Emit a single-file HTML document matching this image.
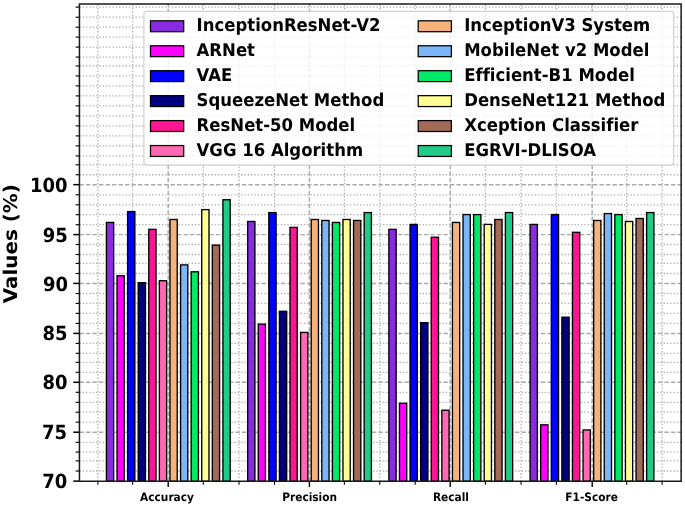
<!DOCTYPE html>
<html lang="en"><head><meta charset="utf-8"><title>Model comparison chart</title>
<style>html,body{margin:0;padding:0;background:#fff}svg{display:block}</style></head>
<body>
<svg width="685" height="505" viewBox="0 0 685 505" font-family="'DejaVu Sans', 'Liberation Sans', sans-serif" font-weight="bold" style="font-variant-ligatures:none" text-rendering="geometricPrecision">
<rect width="685" height="505" fill="#fff"/>
<g stroke="#aeaeae" stroke-width="1.3" stroke-dasharray="1.35 1.95" fill="none">
<path d="M79.45 7.1H681.15"/>
<path d="M79.45 17.2H681.15"/>
<path d="M79.45 27.2H681.15"/>
<path d="M79.45 37.15H681.15"/>
<path d="M79.45 47.1H681.15"/>
<path d="M79.45 57.1H681.15"/>
<path d="M79.45 66.0H681.15"/>
<path d="M79.45 75.9H681.15"/>
<path d="M79.45 85.9H681.15"/>
<path d="M79.45 95.9H681.15"/>
<path d="M79.45 105.9H681.15"/>
<path d="M79.45 115.9H681.15"/>
<path d="M79.45 125.9H681.15"/>
<path d="M79.45 135.9H681.15"/>
<path d="M79.45 145.9H681.15"/>
<path d="M79.45 155.9H681.15"/>
<path d="M79.45 164.8H681.15"/>
<path d="M79.45 174.75H681.15"/>
<path d="M79.45 194.8H681.15"/>
<path d="M79.45 204.8H681.15"/>
<path d="M79.45 214.7H681.15"/>
<path d="M79.45 224.7H681.15"/>
<path d="M79.45 244.5H681.15"/>
<path d="M79.45 254.5H681.15"/>
<path d="M79.45 263.4H681.15"/>
<path d="M79.45 273.5H681.15"/>
<path d="M79.45 293.5H681.15"/>
<path d="M79.45 303.4H681.15"/>
<path d="M79.45 313.4H681.15"/>
<path d="M79.45 323.4H681.15"/>
<path d="M79.45 343.4H681.15"/>
<path d="M79.45 353.3H681.15"/>
<path d="M79.45 362.3H681.15"/>
<path d="M79.45 372.3H681.15"/>
<path d="M79.45 392.3H681.15"/>
<path d="M79.45 402.3H681.15"/>
<path d="M79.45 412.2H681.15"/>
<path d="M79.45 422.2H681.15"/>
<path d="M79.45 442.3H681.15"/>
<path d="M79.45 452.1H681.15"/>
<path d="M79.45 460.9H681.15"/>
<path d="M79.45 471.0H681.15"/>
<path d="M97.90 481.25V4.0"/>
<path d="M132.60 481.25V4.0"/>
<path d="M203.30 481.25V4.0"/>
<path d="M239.00 481.25V4.0"/>
<path d="M274.50 481.25V4.0"/>
<path d="M344.40 481.25V4.0"/>
<path d="M379.80 481.25V4.0"/>
<path d="M415.20 481.25V4.0"/>
<path d="M485.40 481.25V4.0"/>
<path d="M521.10 481.25V4.0"/>
<path d="M556.40 481.25V4.0"/>
<path d="M626.70 481.25V4.0"/>
<path d="M662.10 481.25V4.0"/>
</g>
<g stroke="#aaaaaa" stroke-width="1.45" stroke-dasharray="4.4 2.1" fill="none">
<path d="M79.45 432.2H681.15"/>
<path d="M79.45 382.3H681.15"/>
<path d="M79.45 333.4H681.15"/>
<path d="M79.45 283.4H681.15"/>
<path d="M79.45 234.6H681.15"/>
<path d="M79.45 184.65H681.15"/>
<path d="M168.20 481.25V4.0"/>
<path d="M309.40 481.25V4.0"/>
<path d="M450.20 481.25V4.0"/>
<path d="M592.20 481.25V4.0"/>
</g>
<g stroke="#000" stroke-width="1.35">
<rect x="106.41" y="222.45" width="7.26" height="258.80" fill="#8A2BE2"/>
<rect x="117.00" y="275.76" width="7.26" height="205.49" fill="#FF00FF"/>
<rect x="127.60" y="211.59" width="7.26" height="269.66" fill="#0000FF"/>
<rect x="138.19" y="282.67" width="7.26" height="198.58" fill="#000080"/>
<rect x="148.78" y="229.36" width="7.26" height="251.89" fill="#FF1493"/>
<rect x="159.37" y="280.70" width="7.26" height="200.55" fill="#FF69B4"/>
<rect x="169.97" y="219.49" width="7.26" height="261.76" fill="#F5B27A"/>
<rect x="180.56" y="264.90" width="7.26" height="216.35" fill="#7DB6F6"/>
<rect x="191.15" y="271.81" width="7.26" height="209.44" fill="#00E966"/>
<rect x="201.74" y="209.62" width="7.26" height="271.63" fill="#FFFF92"/>
<rect x="212.33" y="245.16" width="7.26" height="236.09" fill="#A46A58"/>
<rect x="222.93" y="199.75" width="7.26" height="281.50" fill="#22CA88"/>
<rect x="247.64" y="221.47" width="7.26" height="259.78" fill="#8A2BE2"/>
<rect x="258.23" y="324.14" width="7.26" height="157.11" fill="#FF00FF"/>
<rect x="268.83" y="212.58" width="7.26" height="268.67" fill="#0000FF"/>
<rect x="279.42" y="311.30" width="7.26" height="169.95" fill="#000080"/>
<rect x="290.01" y="227.39" width="7.26" height="253.86" fill="#FF1493"/>
<rect x="300.60" y="332.43" width="7.26" height="148.82" fill="#FF69B4"/>
<rect x="311.20" y="219.49" width="7.26" height="261.76" fill="#F5B27A"/>
<rect x="321.79" y="220.48" width="7.26" height="260.77" fill="#7DB6F6"/>
<rect x="332.38" y="222.45" width="7.26" height="258.80" fill="#00E966"/>
<rect x="342.97" y="219.49" width="7.26" height="261.76" fill="#FFFF92"/>
<rect x="353.56" y="220.48" width="7.26" height="260.77" fill="#A46A58"/>
<rect x="364.16" y="212.58" width="7.26" height="268.67" fill="#22CA88"/>
<rect x="388.87" y="229.36" width="7.26" height="251.89" fill="#8A2BE2"/>
<rect x="399.46" y="403.31" width="7.26" height="77.94" fill="#FF00FF"/>
<rect x="410.06" y="224.43" width="7.26" height="256.82" fill="#0000FF"/>
<rect x="420.65" y="322.65" width="7.26" height="158.60" fill="#000080"/>
<rect x="431.24" y="237.26" width="7.26" height="243.99" fill="#FF1493"/>
<rect x="441.83" y="410.22" width="7.26" height="71.03" fill="#FF69B4"/>
<rect x="452.43" y="222.45" width="7.26" height="258.80" fill="#F5B27A"/>
<rect x="463.02" y="214.56" width="7.26" height="266.69" fill="#7DB6F6"/>
<rect x="473.61" y="214.56" width="7.26" height="266.69" fill="#00E966"/>
<rect x="484.20" y="224.43" width="7.26" height="256.82" fill="#FFFF92"/>
<rect x="494.79" y="219.49" width="7.26" height="261.76" fill="#A46A58"/>
<rect x="505.39" y="212.58" width="7.26" height="268.67" fill="#22CA88"/>
<rect x="530.10" y="224.43" width="7.26" height="256.82" fill="#8A2BE2"/>
<rect x="540.69" y="424.83" width="7.26" height="56.42" fill="#FF00FF"/>
<rect x="551.29" y="214.56" width="7.26" height="266.69" fill="#0000FF"/>
<rect x="561.88" y="317.22" width="7.26" height="164.03" fill="#000080"/>
<rect x="572.47" y="232.33" width="7.26" height="248.92" fill="#FF1493"/>
<rect x="583.06" y="429.96" width="7.26" height="51.29" fill="#FF69B4"/>
<rect x="593.66" y="220.48" width="7.26" height="260.77" fill="#F5B27A"/>
<rect x="604.25" y="213.57" width="7.26" height="267.68" fill="#7DB6F6"/>
<rect x="614.84" y="214.56" width="7.26" height="266.69" fill="#00E966"/>
<rect x="625.43" y="221.47" width="7.26" height="259.78" fill="#FFFF92"/>
<rect x="636.02" y="218.50" width="7.26" height="262.75" fill="#A46A58"/>
<rect x="646.62" y="212.58" width="7.26" height="268.67" fill="#22CA88"/>
</g>
<g stroke="#000" fill="none">
<path d="M79.45 7.1h-3.8" stroke-width="1.15"/>
<path d="M79.45 17.2h-3.8" stroke-width="1.15"/>
<path d="M79.45 27.2h-3.8" stroke-width="1.15"/>
<path d="M79.45 37.15h-3.8" stroke-width="1.15"/>
<path d="M79.45 47.1h-3.8" stroke-width="1.15"/>
<path d="M79.45 57.1h-3.8" stroke-width="1.15"/>
<path d="M79.45 66.0h-3.8" stroke-width="1.15"/>
<path d="M79.45 75.9h-3.8" stroke-width="1.15"/>
<path d="M79.45 85.9h-3.8" stroke-width="1.15"/>
<path d="M79.45 95.9h-3.8" stroke-width="1.15"/>
<path d="M79.45 105.9h-3.8" stroke-width="1.15"/>
<path d="M79.45 115.9h-3.8" stroke-width="1.15"/>
<path d="M79.45 125.9h-3.8" stroke-width="1.15"/>
<path d="M79.45 135.9h-3.8" stroke-width="1.15"/>
<path d="M79.45 145.9h-3.8" stroke-width="1.15"/>
<path d="M79.45 155.9h-3.8" stroke-width="1.15"/>
<path d="M79.45 164.8h-3.8" stroke-width="1.15"/>
<path d="M79.45 174.75h-3.8" stroke-width="1.15"/>
<path d="M79.45 184.65h-6.2" stroke-width="1.5"/>
<path d="M79.45 194.8h-3.8" stroke-width="1.15"/>
<path d="M79.45 204.8h-3.8" stroke-width="1.15"/>
<path d="M79.45 214.7h-3.8" stroke-width="1.15"/>
<path d="M79.45 224.7h-3.8" stroke-width="1.15"/>
<path d="M79.45 234.6h-6.2" stroke-width="1.5"/>
<path d="M79.45 244.5h-3.8" stroke-width="1.15"/>
<path d="M79.45 254.5h-3.8" stroke-width="1.15"/>
<path d="M79.45 263.4h-3.8" stroke-width="1.15"/>
<path d="M79.45 273.5h-3.8" stroke-width="1.15"/>
<path d="M79.45 283.4h-6.2" stroke-width="1.5"/>
<path d="M79.45 293.5h-3.8" stroke-width="1.15"/>
<path d="M79.45 303.4h-3.8" stroke-width="1.15"/>
<path d="M79.45 313.4h-3.8" stroke-width="1.15"/>
<path d="M79.45 323.4h-3.8" stroke-width="1.15"/>
<path d="M79.45 333.4h-6.2" stroke-width="1.5"/>
<path d="M79.45 343.4h-3.8" stroke-width="1.15"/>
<path d="M79.45 353.3h-3.8" stroke-width="1.15"/>
<path d="M79.45 362.3h-3.8" stroke-width="1.15"/>
<path d="M79.45 372.3h-3.8" stroke-width="1.15"/>
<path d="M79.45 382.3h-6.2" stroke-width="1.5"/>
<path d="M79.45 392.3h-3.8" stroke-width="1.15"/>
<path d="M79.45 402.3h-3.8" stroke-width="1.15"/>
<path d="M79.45 412.2h-3.8" stroke-width="1.15"/>
<path d="M79.45 422.2h-3.8" stroke-width="1.15"/>
<path d="M79.45 432.2h-6.2" stroke-width="1.5"/>
<path d="M79.45 442.3h-3.8" stroke-width="1.15"/>
<path d="M79.45 452.1h-3.8" stroke-width="1.15"/>
<path d="M79.45 460.9h-3.8" stroke-width="1.15"/>
<path d="M79.45 471.0h-3.8" stroke-width="1.15"/>
<path d="M79.45 481.1h-6.2" stroke-width="1.5"/>
<path d="M97.90 481.25v3.6" stroke-width="1.1"/>
<path d="M132.60 481.25v3.6" stroke-width="1.1"/>
<path d="M203.30 481.25v3.6" stroke-width="1.1"/>
<path d="M239.00 481.25v3.6" stroke-width="1.1"/>
<path d="M274.50 481.25v3.6" stroke-width="1.1"/>
<path d="M344.40 481.25v3.6" stroke-width="1.1"/>
<path d="M379.80 481.25v3.6" stroke-width="1.1"/>
<path d="M415.20 481.25v3.6" stroke-width="1.1"/>
<path d="M485.40 481.25v3.6" stroke-width="1.1"/>
<path d="M521.10 481.25v3.6" stroke-width="1.1"/>
<path d="M556.40 481.25v3.6" stroke-width="1.1"/>
<path d="M626.70 481.25v3.6" stroke-width="1.1"/>
<path d="M662.10 481.25v3.6" stroke-width="1.1"/>
<path d="M168.20 481.25v5.7" stroke-width="1.4"/>
<path d="M309.40 481.25v5.7" stroke-width="1.4"/>
<path d="M450.20 481.25v5.7" stroke-width="1.4"/>
<path d="M592.20 481.25v5.7" stroke-width="1.4"/>
<rect x="79.45" y="4.0" width="601.6999999999999" height="477.25" stroke="#1a1a1a" stroke-width="1.5"/>
</g>
<g font-size="18" text-anchor="end">
<text transform="translate(67.30 488.35) scale(1 1.08)">70</text>
<text transform="translate(67.10 439.45) scale(1 1.08)">75</text>
<text transform="translate(67.60 389.25) scale(1 1.08)">80</text>
<text transform="translate(67.50 340.25) scale(1 1.08)">85</text>
<text transform="translate(68.10 290.65) scale(1 1.08)">90</text>
<text transform="translate(67.90 241.85) scale(1 1.08)">95</text>
<text transform="translate(67.50 191.50) scale(1 1.08)">100</text>
</g>
<g font-size="10.6" text-anchor="middle">
<text transform="translate(167.00 500.5) scale(1 1.1)">Accuracy</text>
<text transform="translate(309.65 500.5) scale(1 1.1)">Precision</text>
<text transform="translate(450.90 500.5) scale(1 1.1)">Recall</text>
<text transform="translate(591.65 500.5) scale(1 1.1)">F1-Score</text>
</g>
<text font-size="19.9" text-anchor="middle" transform="translate(17.3 243.7) rotate(-90) scale(1 0.95)">Values (%)</text>
<rect x="143.9" y="11.4" width="529.8" height="153.7" rx="3" ry="3" fill="#fff" fill-opacity="0.8" stroke="#d2d2d2" stroke-width="1.2"/>
<g font-size="16.5">
<rect x="150.5" y="20.80" width="33.2" height="10.9" fill="#8A2BE2" stroke="#000" stroke-width="1.25"/>
<text transform="translate(196.6 31.45) scale(1 1.07)">InceptionResNet-V2</text>
<rect x="150.5" y="45.75" width="33.2" height="10.9" fill="#FF00FF" stroke="#000" stroke-width="1.25"/>
<text transform="translate(196.6 56.40) scale(1 1.07)">ARNet</text>
<rect x="150.5" y="70.70" width="33.2" height="10.9" fill="#0000FF" stroke="#000" stroke-width="1.25"/>
<text transform="translate(196.6 81.35) scale(1 1.07)">VAE</text>
<rect x="150.5" y="95.65" width="33.2" height="10.9" fill="#000080" stroke="#000" stroke-width="1.25"/>
<text transform="translate(196.6 106.30) scale(1 1.07)">SqueezeNet Method</text>
<rect x="150.5" y="120.60" width="33.2" height="10.9" fill="#FF1493" stroke="#000" stroke-width="1.25"/>
<text transform="translate(196.6 131.25) scale(1 1.07)">ResNet-50 Model</text>
<rect x="150.5" y="145.55" width="33.2" height="10.9" fill="#FF69B4" stroke="#000" stroke-width="1.25"/>
<text transform="translate(196.6 156.20) scale(1 1.07)">VGG 16 Algorithm</text>
<rect x="418.2" y="20.80" width="33.2" height="10.9" fill="#F5B27A" stroke="#000" stroke-width="1.25"/>
<text transform="translate(464.2 31.45) scale(1 1.07)">InceptionV3 System</text>
<rect x="418.2" y="45.75" width="33.2" height="10.9" fill="#7DB6F6" stroke="#000" stroke-width="1.25"/>
<text transform="translate(464.2 56.40) scale(1 1.07)">MobileNet v2 Model</text>
<rect x="418.2" y="70.70" width="33.2" height="10.9" fill="#00E966" stroke="#000" stroke-width="1.25"/>
<text transform="translate(464.2 81.35) scale(1 1.07)">Efficient-B1 Model</text>
<rect x="418.2" y="95.65" width="33.2" height="10.9" fill="#FFFF92" stroke="#000" stroke-width="1.25"/>
<text transform="translate(464.2 106.30) scale(1 1.07)">DenseNet121 Method</text>
<rect x="418.2" y="120.60" width="33.2" height="10.9" fill="#A46A58" stroke="#000" stroke-width="1.25"/>
<text transform="translate(464.2 131.25) scale(1 1.07)">Xception Classifier</text>
<rect x="418.2" y="145.55" width="33.2" height="10.9" fill="#22CA88" stroke="#000" stroke-width="1.25"/>
<text transform="translate(464.2 156.20) scale(1 1.07)">EGRVI-DLISOA</text>
</g>
</svg>
</body></html>
